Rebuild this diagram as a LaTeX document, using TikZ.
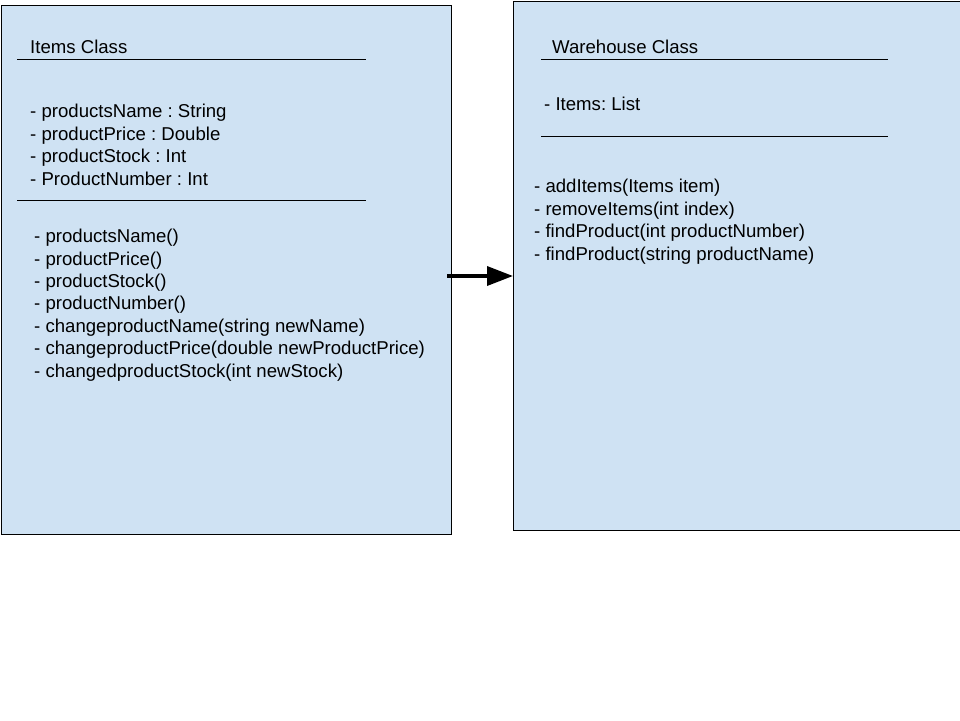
\documentclass[tikz,border=0pt]{standalone}
\usepackage{fontspec}
\setmainfont{Liberation Sans}
\frenchspacing
\usetikzlibrary{arrows.meta}
\definecolor{boxblue}{HTML}{CFE2F3}
\tikzset{
  classbox/.style={draw=black, fill=boxblue, line width=1pt},
  rule/.style={line width=1pt},
  txt/.style={anchor=base west, inner sep=0pt, align=left,
    font=\fontsize{18.6}{22.4}\selectfont}
}

\begin{document}
\begin{tikzpicture}[x=1pt, y=-1pt]
\useasboundingbox (0,0) rectangle (960,720);
\clip (0,0) rectangle (960,720);
% Boxes
\node [classbox, minimum width=450pt, minimum height=529pt, anchor=north west, inner sep=0pt] (items) at (1,5) {};
\node [classbox, minimum width=452pt, minimum height=529pt, anchor=north west, inner sep=0pt] (warehouse) at (513,1) {};
% Lines
\draw [rule] (17,59) -- (366,59);
\draw [rule] (17,200) -- (366,200);
\draw [rule] (541,59) -- (888,59);
\draw [rule] (541,136) -- (888,136);
% Labels (base = baseline of the last line)
\node [txt] (itemstitle) at (30,53) {Items Class};
\node [txt] (itemsattr) at (30,185) {- productsName : String\\- productPrice : Double\\- productStock : Int\\- ProductNumber : Int};
\node [txt] (itemsops) at (34,377) {- productsName()\\- productPrice()\\- productStock()\\- productNumber()\\- changeproductName(string newName)\\- changeproductPrice(double newProductPrice)\\- changedproductStock(int newStock)};
\node [txt] (warehousetitle) at (552,53) {Warehouse Class};
\node [txt] (warehouseattr) at (544,110) {- Items: List};
\node [txt] (warehouseops) at (534,260) {- addItems(Items item)\\- removeItems(int index)\\- findProduct(int productNumber)\\- findProduct(string productName)};
% Arrow
\coordinate (arrowstart) at (447,276);
\draw [line width=3.5pt, -{Triangle[length=26pt, width=19pt]}] (arrowstart) -- (warehouse.west |- arrowstart);
\end{tikzpicture}
\end{document}
